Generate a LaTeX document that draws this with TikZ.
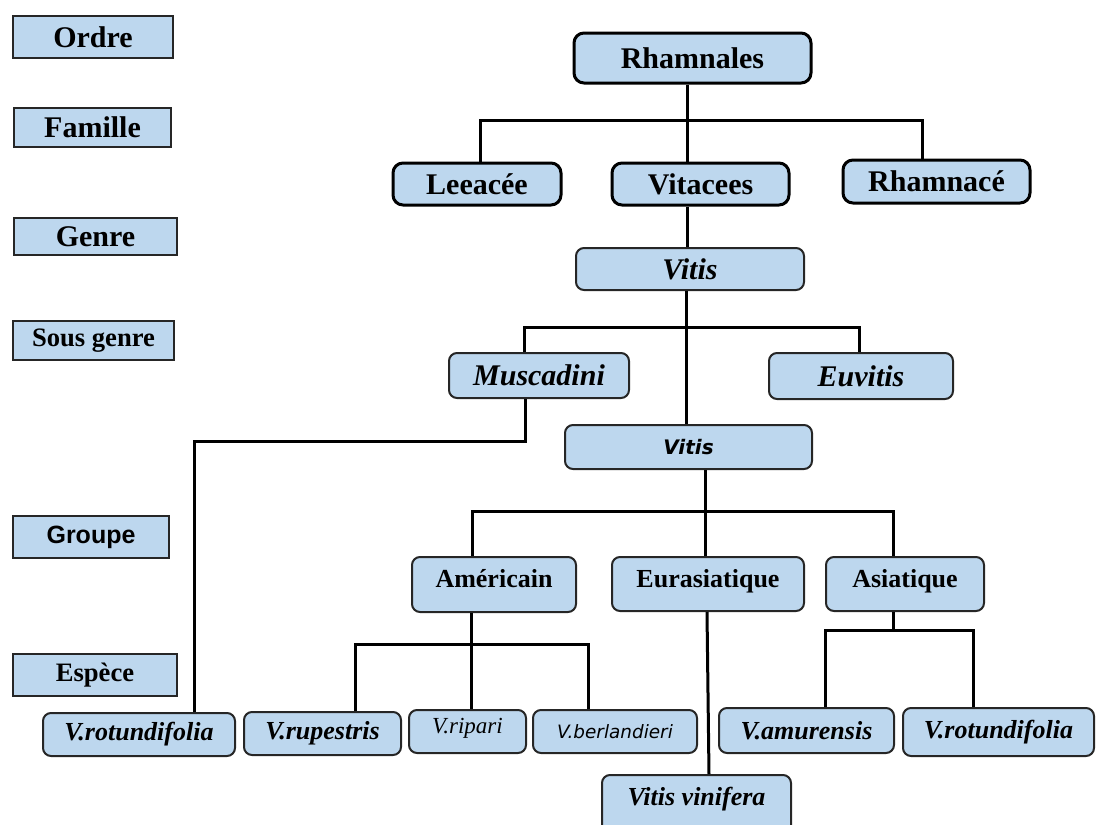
\documentclass[tikz,border=0pt]{standalone}
\usepackage{fontspec}
\setmainfont{Liberation Serif}
\newfontfamily\grpfont{Liberation Sans}
\newfontfamily\vfont{DejaVu Sans}
\usetikzlibrary{positioning}
\definecolor{boxblue}{RGB}{189,215,238}
\definecolor{boxline}{RGB}{38,38,38}

\begin{document}
\begin{tikzpicture}[x=0.5pt,y=-0.5pt,line width=1.5pt,
  wh/.style 2 args={minimum width=#1*0.5pt,minimum height=#2*0.5pt}]
  \tikzstyle{rang}=[draw=boxline,fill=boxblue,line width=1pt,inner sep=0pt,font=\fontsize{15}{18}\selectfont\bfseries]
  \tikzstyle{taxon}=[rang,rounded corners=4pt]
  \tikzstyle{haut}=[taxon,draw=black,line width=1.5pt,rounded corners=5pt]
  \tikzstyle{groupe}=[taxon,font=\fontsize{13}{16}\selectfont\bfseries,text height=15pt,text depth=12pt]
  \tikzstyle{espece}=[taxon,font=\fontsize{13}{16}\selectfont\bfseries\itshape]
  \useasboundingbox (0,0) rectangle (1099,825);

  % rangs
  \node[rang,wh={160}{42}] (ordre)     at (93,37)    {Ordre};
  \node[rang,wh={157}{39}] (famille)   at (92.5,127.5) {Famille};
  \node[rang,wh={163}{37}] (genre)     at (95.5,236.5) {Genre};
  \node[rang,wh={161}{39},font=\fontsize{13.3}{16}\selectfont\bfseries] (sousgenre) at (93.5,340.5) {Sous genre};
  \node[rang,wh={156}{42},font=\grpfont\fontsize{12.5}{15}\selectfont\bfseries] (grp) at (91,537) {Groupe};
  \node[rang,wh={164}{42},font=\fontsize{13.3}{16}\selectfont\bfseries] (esp) at (95,675) {Espèce};

  % arbre
  \node[haut,wh={237}{50}] (rham)  at (692.5,58)    {Rhamnales};
  \node[haut,wh={168}{42}] (leea)  at (477,184)     {Leeacée};
  \node[haut,wh={177}{42}] (vita)  at (700.5,184)   {Vitacees};
  \node[haut,wh={187}{43}] (rhamc) at (936.5,181.5) {Rhamnacé};

  \node[taxon,wh={228}{42},font=\fontsize{15}{18}\selectfont\bfseries\itshape] (vitis) at (690,269) {Vitis};
  \node[taxon,wh={180}{45},font=\fontsize{15}{18}\selectfont\bfseries\itshape] (musc)  at (539,375.5) {Muscadini};
  \node[taxon,wh={184}{46},font=\fontsize{15}{18}\selectfont\bfseries\itshape] (euvi)  at (861,376) {Euvitis};
  \node[taxon,wh={247}{44},font=\vfont\fontsize{10}{12}\selectfont\bfseries\itshape] (vitis2) at (688.5,447) {Vitis};

  \node[groupe,wh={164}{0},text depth=12.5pt] (amer) at (494,584.5) {Américain};
  \node[groupe,wh={192}{0}] (eura) at (708,584) {Eurasiatique};
  \node[groupe,wh={158}{0}] (asia) at (905,584) {Asiatique};

  \node[espece,wh={192}{43}] (rotl) at (139,734.5)   {V.rotundifolia};
  \node[espece,wh={157}{43}] (rupe) at (322.5,733.5) {V.rupestris};
  \node[espece,wh={117}{0},font=\fontsize{11.5}{14}\selectfont\itshape,text height=11.5pt,text depth=10pt] (ripa) at (467.5,731.5) {V.ripari};
  \node[espece,wh={164}{43},font=\vfont\fontsize{9.2}{11}\selectfont\itshape] (berl) at (615,731.5) {V.berlandieri};
  \node[espece,wh={175}{45}] (amur) at (806.5,730.5) {V.amurensis};
  \node[espece,wh={191}{48}] (rotr) at (998.5,732)   {V.rotundifolia};
  \node[espece,wh={189}{0},text height=15pt,text depth=17.5pt] (vini) at (696.5,807.5) {Vitis vinifera};

  % liaisons
  \coordinate (t1)  at (687,120);
  \coordinate (t1l) at (480,120);
  \coordinate (t1r) at (922,120);
  \draw (t1 |- rham.south) -- (t1 |- vita.north);
  \draw (t1l |- leea.north) |- (t1r) -- (t1r |- rhamc.north);
  \draw (t1 |- vita.south) -- (t1 |- vitis.north);

  \coordinate (t2)  at (686,327);
  \coordinate (t2l) at (524,327);
  \coordinate (t2r) at (859,327);
  \draw (t2 |- vitis.south) -- (t2 |- vitis2.north);
  \draw (t2l |- musc.north) |- (t2r) -- (t2r |- euvi.north);

  \coordinate (t3)  at (525,441);
  \coordinate (t3l) at (194,441);
  \draw (t3 |- musc.south) -- (t3) -- (t3l) -- (t3l |- rotl.north);

  \coordinate (t4)  at (705,511);
  \coordinate (t4l) at (472,511);
  \coordinate (t4r) at (893,511);
  \draw (t4 |- vitis2.south) -- (t4 |- eura.north);
  \draw (t4l |- amer.north) |- (t4r) -- (t4r |- asia.north);

  \coordinate (t5)  at (471,644);
  \coordinate (t5l) at (355,644);
  \coordinate (t5r) at (588,644);
  \draw (t5 |- amer.south) -- (t5 |- ripa.north);
  \draw (t5l |- rupe.north) |- (t5r) -- (t5r |- berl.north);

  \coordinate (t6)  at (707,700);
  \coordinate (t6b) at (709,700);
  \draw (t6 |- eura.south) -- (t6b |- vini.north);

  \coordinate (t7)  at (893,630);
  \coordinate (t7l) at (825,630);
  \coordinate (t7r) at (973,630);
  \draw (t7 |- asia.south) -- (t7);
  \draw (t7l |- amur.north) |- (t7r) -- (t7r |- rotr.north);
\end{tikzpicture}
\end{document}
